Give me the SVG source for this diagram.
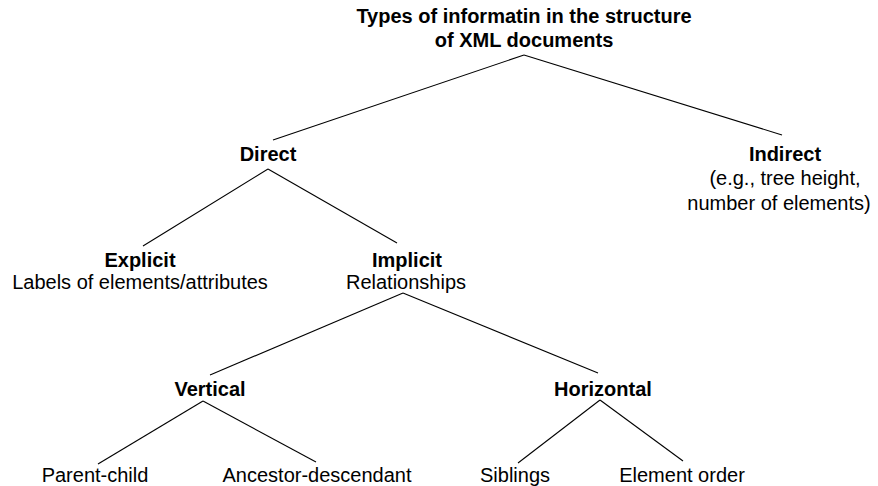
<svg xmlns="http://www.w3.org/2000/svg" width="878" height="486" viewBox="0 0 878 486">
<style>
text{font-family:"Liberation Sans",Arial,sans-serif;font-size:20px;fill:#000;text-anchor:middle}
.b{font-weight:bold}
.e{stroke:#000;stroke-width:1.1;fill:none}
</style>
<rect width="878" height="486" fill="#fff"/>
<g id="connectors">
<line class="e" x1="524" y1="55" x2="273" y2="140"/>
<line class="e" x1="524" y1="55" x2="782" y2="135"/>
<line class="e" x1="268" y1="169" x2="143" y2="246"/>
<line class="e" x1="268" y1="169" x2="397" y2="243"/>
<line class="e" x1="403" y1="293" x2="210" y2="375"/>
<line class="e" x1="403" y1="293" x2="598" y2="373"/>
<line class="e" x1="203" y1="401" x2="98" y2="464"/>
<line class="e" x1="203" y1="401" x2="316" y2="462"/>
<line class="e" x1="600" y1="400" x2="518" y2="463"/>
<line class="e" x1="600" y1="400" x2="683" y2="461"/>
</g>
<g id="root"><text class="b" x="524" y="23">Types of informatin in the structure</text><text class="b" x="524" y="47">of XML documents</text></g>
<g id="direct"><text class="b" x="268" y="161">Direct</text></g>
<g id="indirect"><text class="b" x="785" y="161">Indirect</text><text x="785" y="185">(e.g., tree height,</text><text x="779" y="210">number of elements)</text></g>
<g id="explicit"><text class="b" x="140" y="267">Explicit</text><text x="140" y="289">Labels of elements/attributes</text></g>
<g id="implicit"><text class="b" x="407" y="267">Implicit</text><text x="406" y="289">Relationships</text></g>
<g id="vertical"><text class="b" x="210" y="396">Vertical</text></g>
<g id="horizontal"><text class="b" x="603" y="396">Horizontal</text></g>
<g id="parent-child"><text x="95" y="482">Parent-child</text></g>
<g id="ancestor"><text x="317" y="482">Ancestor-descendant</text></g>
<g id="siblings"><text x="515" y="482">Siblings</text></g>
<g id="order"><text x="682" y="482">Element order</text></g>
</svg>
